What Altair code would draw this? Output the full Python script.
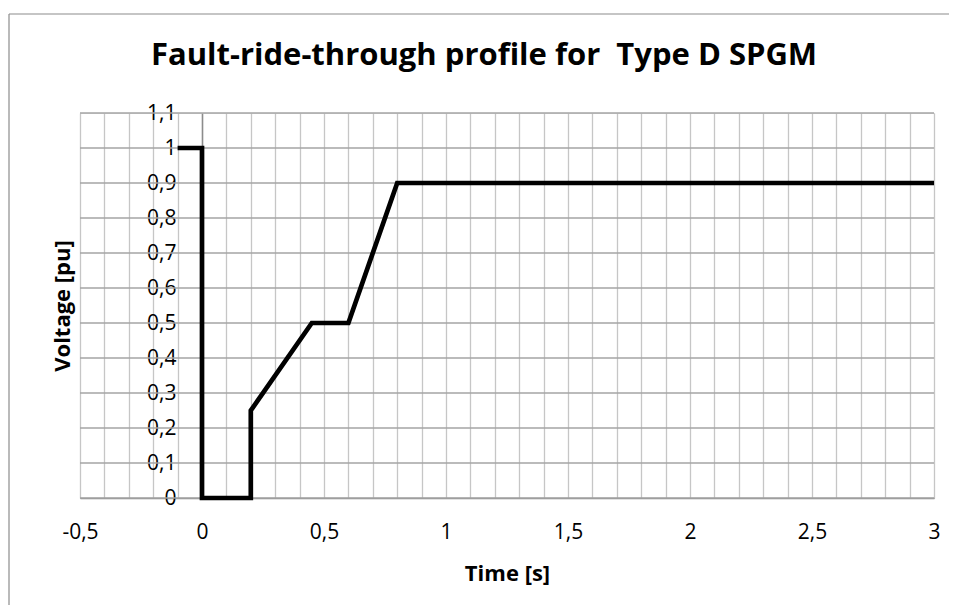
import altair as alt
import pandas as pd

# Profile points (time [s], voltage [pu])
time_s = [-0.1, 0.0, 0.0, 0.2, 0.2, 0.45, 0.6, 0.8, 3.0]
voltage_pu = [1.0, 1.0, 0.0, 0.0, 0.25, 0.5, 0.5, 0.9, 0.9]

x_ticks = [round(-0.5 + 0.1 * i, 1) for i in range(36)]
y_ticks = [round(0.1 * i, 1) for i in range(12)]

title_text = ["Fault-ride-through profile for \u00a0Type D SPGM"]

W, H = 854, 385
FONT = "Open Sans"

df = pd.DataFrame({"t": time_s, "v": voltage_pu, "order": list(range(len(time_s)))})
grid_df = pd.DataFrame({"y": y_ticks})

xscale = alt.Scale(domain=[-0.5, 3], nice=False, zero=False)
yscale = alt.Scale(domain=[0, 1.1], nice=False, zero=False)

x_label_expr = ("abs(round(datum.value*10)) % 5 == 0 ? "
                "(datum.value < 0 ? '-' : '') + replace(format(abs(datum.value), '~g'), '.', ',') : ''")
y_label_expr = "replace(format(datum.value, '~g'), '.', ',')"

y_axis = alt.Axis(values=y_ticks, labelExpr=y_label_expr, grid=False,
                  ticks=False, offset=-122, domainColor="#8c8c8c", domainWidth=1.5,
                  labelPadding=26, labelFontSize=21, labelFont=FONT,
                  labelColor="black", labelFlush=False, labelOverlap=False,
                  title="Voltage [pu]", titleFont=FONT, titleFontSize=22,
                  titleFontWeight="bold", titleColor="black",
                  titleX=-140, titleY=H / 2, titleAngle=-90,
                  titleAlign="center", titleBaseline="middle")

one = pd.DataFrame({"a": [0]})
frame_top = alt.Chart(one).mark_rule(stroke="#8c8c8c", strokeWidth=1.2, clip=False).encode(
    x=alt.value(-71), x2=alt.value(900), y=alt.value(-99)
)
frame_left = alt.Chart(one).mark_rule(stroke="#8c8c8c", strokeWidth=1.2, clip=False).encode(
    x=alt.value(-71), y=alt.value(-99), y2=alt.value(600)
)

title = alt.Chart(pd.DataFrame({"txt": title_text})).mark_text(
    font=FONT, fontSize=31, fontWeight="bold", color="black",
    align="center", baseline="alphabetic"
).encode(x=alt.value(404), y=alt.value(-48), text="txt:N")

hgrid = alt.Chart(grid_df).mark_rule(color="#a4a4a4", strokeWidth=1.3).encode(
    y=alt.Y("y:Q", scale=yscale, axis=y_axis)
)

line = alt.Chart(df).mark_line(color="black", strokeWidth=4.7, strokeJoin="miter").encode(
    x=alt.X("t:Q", scale=xscale,
            axis=alt.Axis(values=x_ticks, labelExpr=x_label_expr, grid=True,
                          gridColor="#c6c6c6", gridWidth=1.3, ticks=False,
                          domainColor="#8c8c8c", domainWidth=1.5,
                          labelPadding=23, labelFontSize=21, labelFont=FONT,
                          labelColor="black", labelFlush=False, labelOverlap=False,
                          title="Time [s]", titleFont=FONT, titleFontSize=22,
                          titleFontWeight="bold", titleColor="black", titlePadding=21)),
    y=alt.Y("v:Q", scale=yscale, axis=y_axis),
    order="order:Q",
)

chart = alt.layer(frame_top, frame_left, hgrid, line, title).properties(
    width=W, height=H,
    autosize=alt.AutoSizeParams(type="none"),
    padding={"left": 72, "top": 105, "right": 15, "bottom": 107},
).configure_view(stroke="#a4a4a4", strokeWidth=1.3).configure(background="white")

chart.save("out.html", embed_options={"renderer": "svg", "actions": False})
